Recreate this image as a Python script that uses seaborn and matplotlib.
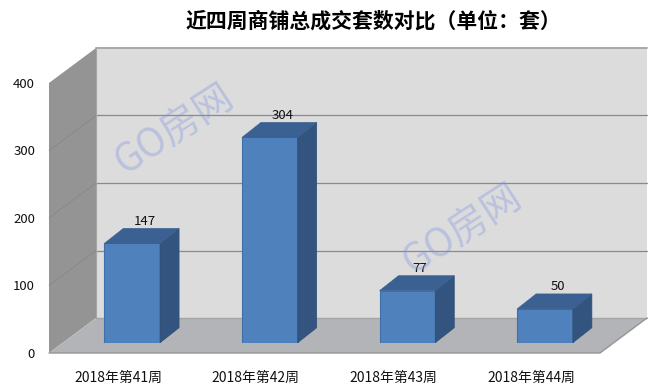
import pandas as pd
import matplotlib.pyplot as plt
from matplotlib.patches import Polygon
from matplotlib.transforms import ScaledTranslation
import seaborn as sns

# data
weeks = ["2018年第41周", "2018年第42周", "2018年第43周", "2018年第44周"]
counts = [147, 304, 77, 50]
value_ticks = [0, 100, 200, 300, 400]
title = "近四周商铺总成交套数对比（单位：套）"
watermark = "GO房网"

sns.set_style("white")
plt.rcParams["font.family"] = ["Noto Sans CJK SC", "DejaVu Sans"]

W, H = 662, 392
PX_PER_UNIT = 0.675     # vertical pixels per unit on the value axis
fig = plt.figure(figsize=(W / 100, H / 100), dpi=100, facecolor="white")

# ── back axes: walls and floor, x in pixels, y in chart units ──
floor_y = 353
depth_x, depth_y = 47, 35 / PX_PER_UNIT
left_x, right_x = 49, 600
top_val = (353 - 83) / PX_PER_UNIT

ax_w = fig.add_axes([0, 0, 1, 1], facecolor="none")
ax_w.set_xlim(0, W)
ax_w.set_ylim(-(H - floor_y) / PX_PER_UNIT, floor_y / PX_PER_UNIT)

ax_w.add_patch(Polygon([(left_x + depth_x, depth_y), (right_x + depth_x, depth_y),
                        (right_x + depth_x, top_val + depth_y), (left_x + depth_x, top_val + depth_y)],
                       fc="#DCDCDC", ec="none"))
ax_w.add_patch(Polygon([(left_x, 0), (left_x + depth_x, depth_y),
                        (left_x + depth_x, top_val + depth_y), (left_x, top_val)],
                       fc="#949494", ec="none"))
ax_w.add_patch(Polygon([(left_x, 0), (right_x, 0), (right_x + depth_x, depth_y), (left_x + depth_x, depth_y)],
                       fc="#B2B4B8", ec="none"))

# grid lines follow the value ticks
for v in value_ticks[1:-1]:
    ax_w.plot([left_x, left_x + depth_x], [v, v + depth_y], color="#858585", lw=0.5)
    ax_w.plot([left_x + depth_x, right_x + depth_x], [v + depth_y, v + depth_y], color="#8A8A8A", lw=0.9)
ax_w.plot([left_x + depth_x, right_x + depth_x], [top_val + depth_y] * 2, color="#A8A8A8", lw=1.4)
ax_w.plot([left_x + depth_x, right_x + depth_x], [depth_y] * 2, color="#A5A5A5", lw=1)
ax_w.plot([left_x + depth_x] * 2, [depth_y, top_val + depth_y], color="#A5A5A5", lw=0.8)
ax_w.plot([left_x, right_x, right_x + depth_x], [0, 0, depth_y], color="#959595", lw=1)

sns.despine(ax=ax_w, left=False, bottom=True, right=True, top=True)
ax_w.spines["left"].set_visible(False)
ax_w.spines["left"].set_position(("data", left_x))
ax_w.set_xticks([])
ax_w.set_yticks(value_ticks)
ax_w.tick_params(axis="y", length=0, pad=10, labelsize=9.5, labelcolor="#111111")

# ── front axes: the bars ──
step = 137.6
ax = fig.add_axes([63.4 / W, (H - 342.7) / H, 4 * step / W, 270 / H], facecolor="none")
df = pd.DataFrame({"week": weeks, "count": counts})
sns.barplot(data=df, x="week", y="count", color="#4F81BD", saturation=1, width=0.405,
            edgecolor="#3F6FA8", linewidth=0.8, ax=ax)
ax.set_xlim(-0.5, 3.5)
ax.set_ylim(0, 400)
ax.set_xlabel("")
ax.set_ylabel("")
ax.set_yticks([])
sns.despine(ax=ax, left=True, bottom=True)
ax.tick_params(axis="x", length=0, pad=20, labelsize=10, labelcolor="#111111")
shift = ScaledTranslation(-14 / 100, 0, fig.dpi_scale_trans)
for lab in ax.get_xticklabels():
    lab.set_transform(lab.get_transform() + shift)

# side and top faces, built from the bars seaborn drew
dx, dy = 19 / step, 15 / PX_PER_UNIT
for bar, val in zip(ax.patches, counts):
    x0, x1 = bar.get_x(), bar.get_x() + bar.get_width()
    h = bar.get_height()
    ax.add_patch(Polygon([(x1, 0), (x1 + dx, dy), (x1 + dx, h + dy), (x1, h)],
                         fc="#32547E", ec="#2E4E76", lw=0.5, clip_on=False, zorder=3))
    ax.add_patch(Polygon([(x0, h), (x1, h), (x1 + dx, h + dy), (x0 + dx, h + dy)],
                         fc="#3A6191", ec="#3A6191", lw=0.5, clip_on=False, zorder=3))
    ax.annotate(str(val), ((x0 + x1) / 2, h), xytext=(9.0, 16), textcoords="offset points",
                ha="center", va="center", fontsize=9.5, color="#111111", zorder=5, annotation_clip=False)

# ── title and watermarks ──
fig.text(373.5 / W, 1 - 21 / H, title, ha="center", va="center", fontsize=15, fontweight="bold", color="black")
for cx, cy in [(175, 130), (463, 230)]:
    fig.text(cx / W, 1 - cy / H, watermark, ha="center", va="center", fontsize=28, rotation=33,
             color="#7F93E0", alpha=0.36, zorder=6)

fig.savefig("out.png", dpi=100)
